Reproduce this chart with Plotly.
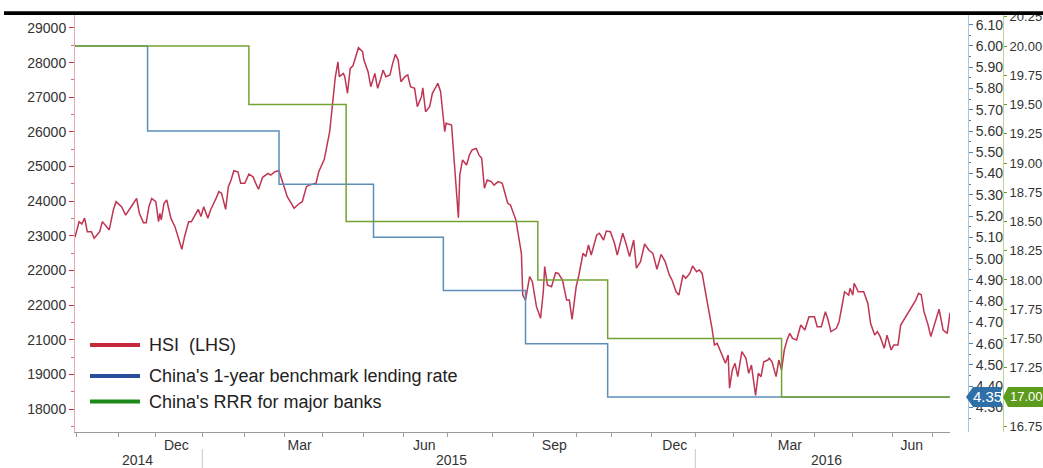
import plotly.graph_objects as go

# ---------------- data ----------------
# Hang Seng Index (left axis)
hsi_dates = [
    "2014-09-30", "2014-10-03", "2014-10-05", "2014-10-07", "2014-10-09", "2014-10-12", "2014-10-14",
    "2014-10-18", "2014-10-20", "2014-10-25", "2014-10-28", "2014-10-30",
    "2014-11-03", "2014-11-06", "2014-11-10", "2014-11-14", "2014-11-16", "2014-11-19", "2014-11-21",
    "2014-11-23", "2014-11-25", "2014-11-28", "2014-11-30",
    "2014-12-01", "2014-12-02", "2014-12-04", "2014-12-06", "2014-12-09", "2014-12-12", "2014-12-14",
    "2014-12-17", "2014-12-19", "2014-12-22", "2014-12-24", "2014-12-27", "2014-12-29", "2014-12-31",
    "2015-01-02", "2015-01-05", "2015-01-07", "2015-01-11", "2015-01-13", "2015-01-15", "2015-01-18",
    "2015-01-20", "2015-01-22", "2015-01-24", "2015-01-27", "2015-01-29",
    "2015-02-01", "2015-02-04", "2015-02-07", "2015-02-09", "2015-02-11", "2015-02-14", "2015-02-18",
    "2015-02-20", "2015-02-23", "2015-02-26",
    "2015-03-01", "2015-03-04", "2015-03-07", "2015-03-09", "2015-03-13", "2015-03-15", "2015-03-18",
    "2015-03-20", "2015-03-23", "2015-03-25", "2015-03-27", "2015-03-31",
    "2015-04-04", "2015-04-06", "2015-04-08", "2015-04-10", "2015-04-11", "2015-04-14", "2015-04-15",
    "2015-04-17", "2015-04-19", "2015-04-21", "2015-04-23", "2015-04-25", "2015-04-28", "2015-04-29",
    "2015-05-02", "2015-05-04", "2015-05-07", "2015-05-09", "2015-05-11", "2015-05-13", "2015-05-15",
    "2015-05-18", "2015-05-20", "2015-05-22", "2015-05-24", "2015-05-26", "2015-05-29", "2015-05-31",
    "2015-06-02", "2015-06-05", "2015-06-07", "2015-06-10", "2015-06-11", "2015-06-13", "2015-06-16",
    "2015-06-18", "2015-06-22", "2015-06-24", "2015-06-27", "2015-06-28",
    "2015-07-02", "2015-07-04", "2015-07-05", "2015-07-07", "2015-07-08", "2015-07-10", "2015-07-13",
    "2015-07-15", "2015-07-17", "2015-07-20", "2015-07-22", "2015-07-24", "2015-07-26", "2015-07-28",
    "2015-07-31",
    "2015-08-02", "2015-08-05", "2015-08-08", "2015-08-12", "2015-08-14", "2015-08-18", "2015-08-22",
    "2015-08-23", "2015-08-25", "2015-08-28", "2015-08-30",
    "2015-09-02", "2015-09-05", "2015-09-07", "2015-09-08", "2015-09-10", "2015-09-13", "2015-09-16",
    "2015-09-18", "2015-09-21", "2015-09-24", "2015-09-26", "2015-09-28",
    "2015-10-01", "2015-10-03", "2015-10-06", "2015-10-08", "2015-10-10", "2015-10-12", "2015-10-16",
    "2015-10-18", "2015-10-21", "2015-10-23", "2015-10-26", "2015-10-29", "2015-10-31",
    "2015-11-04", "2015-11-06", "2015-11-09", "2015-11-12", "2015-11-14", "2015-11-17", "2015-11-20",
    "2015-11-23", "2015-11-26", "2015-11-29",
    "2015-12-02", "2015-12-05", "2015-12-08", "2015-12-10", "2015-12-13", "2015-12-15", "2015-12-18",
    "2015-12-20", "2015-12-23", "2015-12-25", "2015-12-28", "2015-12-30",
    "2016-01-01", "2016-01-04", "2016-01-06", "2016-01-08", "2016-01-10", "2016-01-12", "2016-01-15",
    "2016-01-18", "2016-01-20", "2016-01-21", "2016-01-23", "2016-01-25", "2016-01-27", "2016-01-30",
    "2016-02-02", "2016-02-04", "2016-02-06", "2016-02-09", "2016-02-11", "2016-02-13", "2016-02-15",
    "2016-02-18", "2016-02-19", "2016-02-21", "2016-02-24", "2016-02-26", "2016-02-28",
    "2016-03-01", "2016-03-03", "2016-03-05", "2016-03-07", "2016-03-10", "2016-03-13", "2016-03-16",
    "2016-03-19", "2016-03-23", "2016-03-25", "2016-03-28", "2016-03-31",
    "2016-04-02", "2016-04-04", "2016-04-08", "2016-04-10", "2016-04-13", "2016-04-14", "2016-04-17",
    "2016-04-18", "2016-04-20", "2016-04-21", "2016-04-24", "2016-04-28",
    "2016-05-01", "2016-05-03", "2016-05-06", "2016-05-08", "2016-05-10", "2016-05-13", "2016-05-15",
    "2016-05-18", "2016-05-20", "2016-05-23", "2016-05-25", "2016-05-28", "2016-05-31",
    "2016-06-02", "2016-06-05", "2016-06-07", "2016-06-09", "2016-06-11", "2016-06-14", "2016-06-16",
    "2016-06-19", "2016-06-22", "2016-06-25", "2016-06-28", "2016-06-30",
]
hsi_values = [
    22960, 23410, 23340, 23510, 23120, 23120, 22930, 23120, 23410, 23170, 23745, 23985,
    23840, 23600, 23840, 24080, 23650, 23380, 23380, 23840, 24080, 23985, 23410,
    23650, 23460, 23940, 24035, 23510, 23265, 22975, 22610, 22975, 23410, 23410, 23600, 23765, 23555,
    23840, 23510, 23745, 24080, 24275, 24230, 23765, 24420, 24610, 24880, 24850, 24515,
    24515, 24785, 24705, 24515, 24345, 24690, 24805, 24755, 24850, 24880,
    24515, 24130, 23940, 23795, 23940, 23985, 24420, 24465, 24495, 24515, 24850, 25200,
    26005, 26870, 27550, 28025, 27595, 27690, 27595, 27115, 27835, 27910, 28170, 28430, 28315, 28075,
    27740, 27305, 27690, 27260, 27500, 27785, 27595, 27645, 27980, 28240, 28075, 27450, 27595, 27645,
    27305, 27260, 26730, 27015, 27275, 26585, 26730, 27115, 27405, 27160, 26005, 26250,
    26200, 25140, 24660, 23520, 24755, 25190, 25045, 25335, 25480, 25525, 25335, 25240, 24370, 24610,
    24565,
    24465, 24565, 24515, 23940, 23890, 23455, 22495, 21290, 21145, 21820, 21675,
    20955, 20620, 21385, 22110, 21580, 21530, 21935, 21915, 21725, 21145, 21145, 20590,
    21530, 21870, 22495, 22400, 22735, 22445, 23025, 23075, 22880, 23140, 23120, 22785, 22445,
    23075, 22830, 22400, 22880, 22065, 22255, 22765, 22590, 22495, 22035,
    22465, 22255, 21870, 21725, 21385, 21290, 21870, 21775, 21915, 22130, 21965, 22015,
    21915, 21245, 20860, 20375, 19850, 19895, 19610, 19320, 19560, 18600, 19125, 19320, 18935, 19655,
    19465, 19030, 19270, 18390, 19030, 18935, 19365, 19415, 19465, 19365, 18935, 19415, 19125,
    19705, 19995, 20185, 20040, 19995, 20425, 20280, 20665, 20665, 20375, 20375, 20810,
    20570, 20235, 20330, 20520, 21245, 21385, 21290, 21485, 21290, 21630, 21385, 21385,
    21050, 20475, 20135, 20235, 20090, 19755, 20135, 19705, 19850, 19850, 20425, 20620, 20810,
    20910, 21145, 21340, 21300, 20810, 20425, 20090, 20475, 20880, 20280, 20185, 20780,
]
assert len(hsi_dates) == len(hsi_values)

# China's 1-year benchmark lending rate (%), step changes
lending_dates = ["2014-09-30", "2014-11-22", "2015-02-26", "2015-05-06", "2015-06-26",
                 "2015-08-25", "2015-10-24", "2016-06-30"]
lending_rate = [6.00, 5.60, 5.35, 5.10, 4.85, 4.60, 4.35, 4.35]

# China's reserve requirement ratio for major banks (%), step changes
rrr_dates = ["2014-09-30", "2015-02-04", "2015-04-16", "2015-09-03", "2015-10-24",
             "2016-02-28", "2016-06-30"]
rrr_values = [20.00, 19.50, 18.50, 18.00, 17.50, 17.00, 17.00]

# axis ticks and labels
hsi_tickvals = [18000, 19000, 20000, 21000, 22000, 23000, 24000, 25000, 26000, 27000, 28000, 29000]
hsi_ticktext = ["18000", "19000", "21000", "22000", "22000", "23000", "24000", "25000",
                "26000", "27000", "28000", "29000"]
rate_tickvals = [4.30, 4.40, 4.50, 4.60, 4.70, 4.80, 4.90, 5.00, 5.10, 5.20, 5.30, 5.40,
                 5.50, 5.60, 5.70, 5.80, 5.90, 6.00, 6.10]
month_label_dates = ["2014-12-13", "2015-03-13", "2015-06-12", "2015-09-15", "2015-12-12",
                     "2016-03-05", "2016-06-02"]
month_labels = ["Dec", "Mar", "Jun", "Sep", "Dec", "Mar", "Jun"]
month_tick_dates = ["2014-10-01", "2014-11-01", "2014-11-28", "2015-01-01", "2015-02-01",
                    "2015-03-02", "2015-03-30", "2015-04-29", "2015-05-28", "2015-06-29",
                    "2015-08-01", "2015-08-31", "2015-10-01", "2015-10-27", "2015-11-25",
                    "2015-12-27", "2016-01-24", "2016-02-21", "2016-03-23", "2016-04-20",
                    "2016-05-19", "2016-06-17"]
year_labels = ["2014", "2015", "2016"]
year_label_dates = ["2014-11-15", "2015-07-02", "2016-04-01"]
year_break_dates = ["2015-01-01", "2015-12-27"]

series_names = ["HSI  (LHS)", "China's 1-year benchmark lending rate", "China's RRR for major banks"]

# ---------------- styling / layout helpers ----------------
W, H = 1043, 468
L, R, T, B = 75, 5, 14, 36
PW, PH = W - L - R, H - T - B
FONT = "Liberation Sans"

RED = "#bf3552"
BLUE = "#5b8fba"
GREEN = "#74a232"
LEG_COLORS = ["#c8283c", "#2b4c9b", "#1b8a1b"]


def px(xp):
    return (xp - L) / PW


def py(yp):
    return (H - B - yp) / PH


fig = go.Figure()
fig.add_trace(go.Scatter(x=hsi_dates, y=hsi_values, mode="lines", yaxis="y",
                         line=dict(color=RED, width=1.5), name=series_names[0], showlegend=False))
fig.add_trace(go.Scatter(x=lending_dates, y=lending_rate, mode="lines", yaxis="y2",
                         line=dict(color=BLUE, width=1.5, shape="hv"), name=series_names[1],
                         showlegend=False))
fig.add_trace(go.Scatter(x=rrr_dates, y=rrr_values, mode="lines", yaxis="y3",
                         line=dict(color=GREEN, width=1.5, shape="hv"), name=series_names[2],
                         showlegend=False))

tickfont = dict(family=FONT, size=14, color="#333333")
tickfont_rrr = dict(family=FONT, size=13, color="#333333")

shapes = []
annotations = []

# heavy rule along the top
shapes.append(dict(type="rect", xref="paper", yref="paper", x0=px(4), x1=px(W + 2),
                   y0=py(15), y1=py(11.2), fillcolor="#000000", line=dict(width=0), layer="above"))

# legend drawn as line samples + text
legend_rows = [345, 376, 401.5]
for name, col, yc in zip(series_names, LEG_COLORS, legend_rows):
    shapes.append(dict(type="line", xref="paper", yref="paper", x0=px(90), x1=px(140),
                       y0=py(yc), y1=py(yc), line=dict(color=col, width=4), layer="above"))
    annotations.append(dict(xref="paper", yref="paper", x=px(147), y=py(yc), text=name,
                            showarrow=False, xanchor="left", yanchor="middle",
                            font=dict(family=FONT, size=18, color="#222222")))

# last-value tags on the right axes
last_rate = lending_rate[-1]
hb = 10 / (PH / (6.150 - 4.185))
shapes.append(dict(type="path", xref="paper", yref="y2", layer="above",
                   path=(f"M {px(966)},{last_rate} L {px(973)},{last_rate + hb} "
                         f"L {px(1001)},{last_rate + hb} L {px(1001)},{last_rate - hb} "
                         f"L {px(973)},{last_rate - hb} Z"),
                   fillcolor="#2f6fa8", line=dict(width=0)))
annotations.append(dict(xref="paper", yref="y2", x=px(987), y=last_rate, text=f"{last_rate:.2f}",
                        showarrow=False, xanchor="center", yanchor="middle",
                        font=dict(family=FONT, size=15, color="#ffffff")))
last_rrr = rrr_values[-1]
hg = 10 / (PH / (20.274 - 16.70))
shapes.append(dict(type="path", xref="paper", yref="y3", layer="above",
                   path=(f"M {px(1003)},{last_rrr} L {px(1008)},{last_rrr + hg} "
                         f"L {px(1060)},{last_rrr + hg} L {px(1060)},{last_rrr - hg} "
                         f"L {px(1008)},{last_rrr - hg} Z"),
                   fillcolor="#5c9b1c", line=dict(width=0)))
annotations.append(dict(xref="paper", yref="y3", x=px(1008), y=last_rrr, text=f"{last_rrr:.2f}",
                        showarrow=False, xanchor="left", yanchor="middle",
                        font=dict(family=FONT, size=13, color="#ffffff")))

# year row under the month labels
for lbl, d in zip(year_labels, year_label_dates):
    annotations.append(dict(xref="x", yref="paper", x=d, y=py(460), text=lbl, showarrow=False,
                            xanchor="center", yanchor="middle", font=tickfont))
for d in year_break_dates:
    shapes.append(dict(type="line", xref="x", yref="paper", x0=d, x1=d, y0=py(449), y1=py(470),
                       line=dict(color="#c8c8c8", width=1)))

fig.update_layout(
    width=W, height=H,
    margin=dict(l=L, r=R, t=T, b=B, pad=0, autoexpand=False),
    paper_bgcolor="#ffffff", plot_bgcolor="#ffffff",
    showlegend=False,
    font=dict(family=FONT, size=14, color="#333333"),
    xaxis=dict(
        type="date", domain=[0, px(950)], range=["2014-09-30", "2016-06-30"],
        tickmode="array", tickvals=month_label_dates, ticktext=month_labels,
        ticks="", showgrid=False, zeroline=False, showline=True, automargin=False,
        linecolor="#9a9a9a", linewidth=1, tickfont=tickfont,
        minor=dict(tickmode="array", tickvals=month_tick_dates, ticks="outside",
                   ticklen=4, tickcolor="#9a9a9a", showgrid=False),
    ),
    yaxis=dict(
        range=[17337, 29404], tickmode="array", tickvals=hsi_tickvals, ticktext=hsi_ticktext,
        ticks="outside", ticklen=5, tickcolor="#c0304a", showgrid=False, zeroline=False,
        showline=True, linecolor="#e2aab4", linewidth=1, tickfont=tickfont, automargin=False,
        minor=dict(tickmode="linear", tick0=17500, dtick=1000, ticks="outside", ticklen=3,
                   tickcolor="#d07080", showgrid=False),
    ),
    yaxis2=dict(
        range=[4.185, 6.150], overlaying="y", side="right", anchor="free", position=px(968),
        tickmode="array", tickvals=rate_tickvals, tickformat=".2f", automargin=False,
        ticks="outside", ticklen=4, tickcolor="#4f86b8", showgrid=False, zeroline=False,
        showline=True, linecolor="#a8c6e0", linewidth=1, tickfont=tickfont,
        minor=dict(tickmode="linear", tick0=4.25, dtick=0.1, ticks="outside", ticklen=2,
                   tickcolor="#4f86b8", showgrid=False),
    ),
    yaxis3=dict(
        range=[16.70, 20.274], overlaying="y", side="right", anchor="free", position=px(1003),
        tick0=16.75, dtick=0.25, tickformat=".2f", automargin=False,
        ticks="outside", ticklen=3, tickcolor="#6a9a22", showgrid=False, zeroline=False,
        showline=True, linecolor="#bcd596", linewidth=1, tickfont=tickfont_rrr,
    ),
    shapes=shapes,
    annotations=annotations,
)

fig.write_html("out.html")
